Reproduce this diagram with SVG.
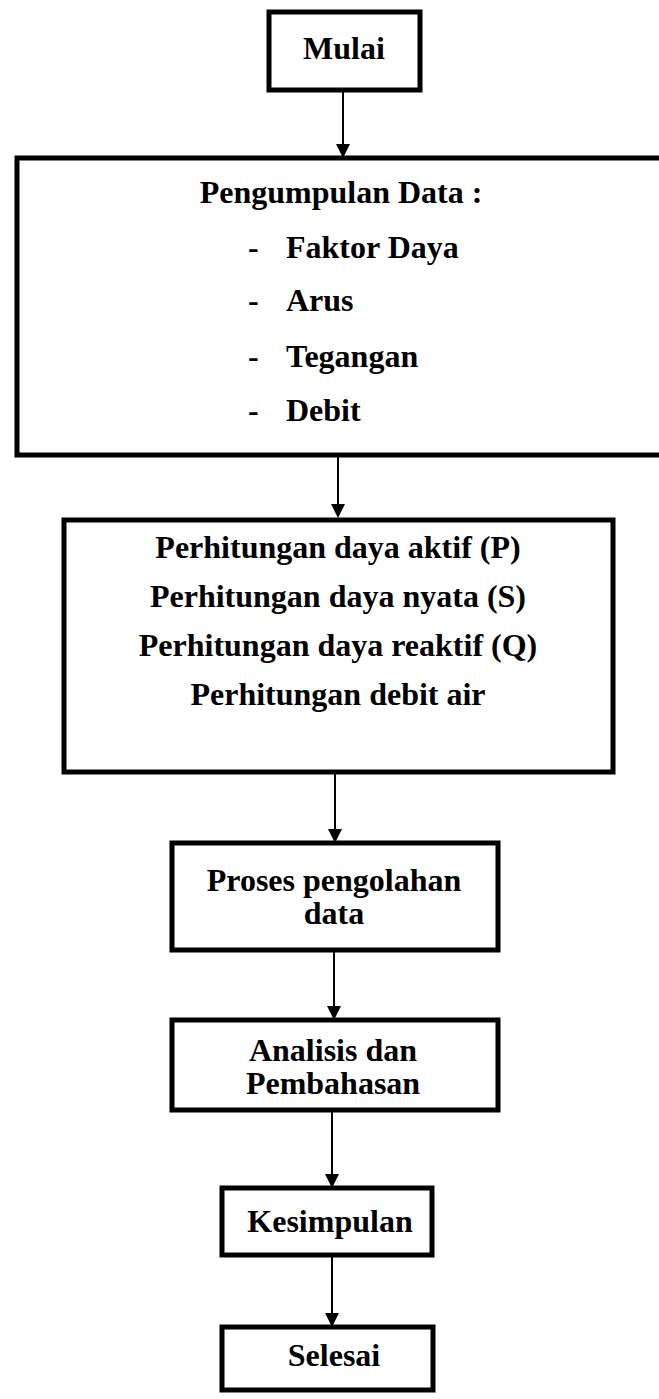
<svg xmlns="http://www.w3.org/2000/svg" width="659" height="1399" viewBox="0 0 659 1399">
<style>
.box{fill:#fff;stroke:#000;stroke-width:5}
.t{font-family:"Liberation Serif","Times New Roman",serif;font-weight:bold;font-size:32px;fill:#000}
.c{text-anchor:middle}
.ln{stroke:#000;stroke-width:2;fill:none}
.hd{fill:#000}
</style>
<rect width="659" height="1399" fill="#fff"/>
<g id="connectors">
<line class="ln" x1="343" y1="92" x2="343" y2="146"/>
<line class="ln" x1="338" y1="457" x2="338" y2="506"/>
<line class="ln" x1="335" y1="774" x2="335" y2="831"/>
<line class="ln" x1="334" y1="952" x2="334" y2="1008"/>
<line class="ln" x1="332" y1="1112" x2="332" y2="1176"/>
<line class="ln" x1="332" y1="1257" x2="332" y2="1315"/>
<path class="hd" d="M336,144 L350,144 L343,158 Z"/>
<path class="hd" d="M331,504 L345,504 L338,518 Z"/>
<path class="hd" d="M328,829 L342,829 L335,843 Z"/>
<path class="hd" d="M327,1006 L341,1006 L334,1020 Z"/>
<path class="hd" d="M325,1174 L339,1174 L332,1188 Z"/>
<path class="hd" d="M325,1313 L339,1313 L332,1327 Z"/>
</g>
<g id="mulai">
<rect class="box" x="269" y="12" width="151" height="78"/>
<text class="t c" x="344" y="59">Mulai</text>
</g>
<g id="pengumpulan">
<rect class="box" x="17" y="158" width="670" height="297"/>
<text class="t c" x="341" y="203">Pengumpulan Data :</text>
<text class="t" x="248" y="258">-</text><text class="t" x="286" y="258">Faktor Daya</text>
<text class="t" x="248" y="311">-</text><text class="t" x="286" y="311">Arus</text>
<text class="t" x="248" y="367">-</text><text class="t" x="286" y="367">Tegangan</text>
<text class="t" x="248" y="421">-</text><text class="t" x="286" y="421">Debit</text>
</g>
<g id="perhitungan">
<rect class="box" x="64" y="520" width="549" height="252"/>
<text class="t c" x="338" y="558">Perhitungan daya aktif (P)</text>
<text class="t c" x="338" y="607">Perhitungan daya nyata (S)</text>
<text class="t c" x="338" y="656">Perhitungan daya reaktif (Q)</text>
<text class="t c" x="338" y="705">Perhitungan debit air</text>
</g>
<g id="proses">
<rect class="box" x="172" y="843" width="326" height="107"/>
<text class="t c" x="334" y="891"><tspan x="334">Proses pengolahan</tspan><tspan x="334" dy="33">data</tspan></text>
</g>
<g id="analisis">
<rect class="box" x="172" y="1020" width="326" height="90"/>
<text class="t c" x="333" y="1061"><tspan x="333">Analisis dan</tspan><tspan x="333" dy="33">Pembahasan</tspan></text>
</g>
<g id="kesimpulan">
<rect class="box" x="222" y="1188" width="210" height="67"/>
<text class="t c" x="330" y="1232">Kesimpulan</text>
</g>
<g id="selesai">
<rect class="box" x="222" y="1327" width="211" height="63"/>
<text class="t c" x="334" y="1366">Selesai</text>
</g>
</svg>
